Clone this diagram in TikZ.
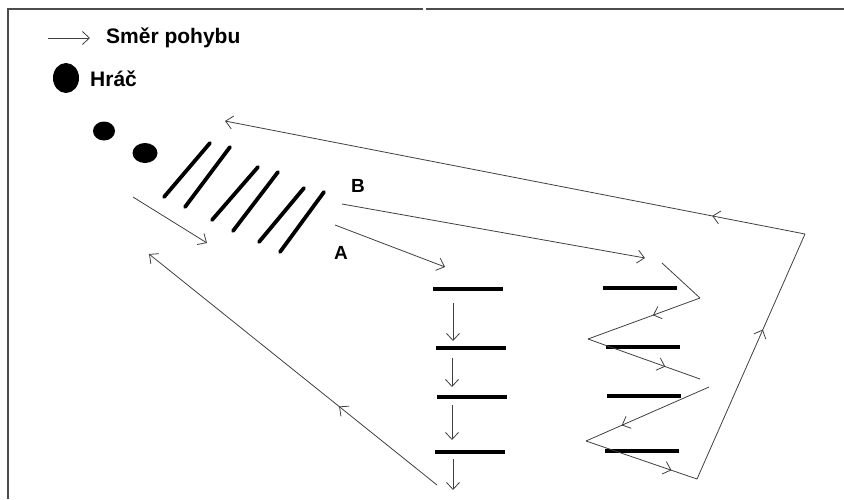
\documentclass[tikz,border=0pt]{standalone}
\usepackage{fontspec}
\setmainfont{Liberation Sans}
\usetikzlibrary{arrows.meta, decorations.markings, shapes.geometric}

\begin{document}
\begin{tikzpicture}[x=1pt, y=-1pt,
    >={Straight Barb[length=7pt, width=13pt]},
    frame/.style = {draw=black!70, line width=1.5pt},
    track/.style = {draw=black!75, line width=0.8pt},
    midarrow/.style = {track, postaction={decorate},
        decoration={markings, mark=at position #1 with {\arrow{>}}}},
    midarrow/.default = 0.5,
    hurdle/.style = {line width=3.8pt, line cap=round},
    bar/.style = {fill=black, minimum width=70pt, minimum height=3.8pt, inner sep=0pt},
    player/.style = {ellipse, fill=black, inner sep=0pt},
    textnode/.style = {font=\bfseries\fontsize{21}{25}\selectfont, inner sep=0pt, anchor=west},
    letter/.style = {font=\bfseries\fontsize{19}{23}\selectfont, inner sep=0pt}
]
\useasboundingbox (0,0) rectangle (844,499);

% Frame round the sheet
\draw[frame] (8,499) -- (8,9) -- (423,9);
\draw[frame] (426,9) -- (844,9);

% Legend
\coordinate (legendstart) at (48,38);
\coordinate (legendend) at (90,38);
\draw[track, ->] (legendstart) -- (legendend);
\node[textnode] (legendmove) at (106,38) {Směr pohybu};
\node[player, minimum width=26pt, minimum height=30pt] (legendplayer) at (66,78) {};
\node[textnode] (legendtext) at (90,79) {Hráč};

% Players waiting
\node[player, minimum width=22pt, minimum height=19pt] (playerone) at (104,131) {};
\node[player, minimum width=25pt, minimum height=20pt] (playertwo) at (145,153) {};

% Diagonal hurdles
\draw[hurdle] (164,197) -- (210,143);
\draw[hurdle] (185,207) -- (230,147);
\draw[hurdle] (212,220) -- (258,167);
\draw[hurdle] (233,231) -- (278,172);
\draw[hurdle] (259,242) -- (304,188);
\draw[hurdle] (280,252) -- (324,192);

% Way into the hurdles
\coordinate (startin) at (133,197);
\coordinate (startout) at (207,243);
\draw[track, ->] (startin) -- (startout);

% Labels A and B
\node[letter] (labelB) at (358,186) {B};
\node[letter] (labelA) at (341,253) {A};

% Left column (A)
\node[bar] (aone) at (468,289) {};
\node[bar] (atwo) at (471,348) {};
\node[bar] (athree) at (472,397) {};
\node[bar] (afour) at (470,452) {};

% Right column (B)
\node[bar, minimum width=74pt] (bone) at (640,288) {};
\node[bar, minimum width=74pt] (btwo) at (643,347) {};
\node[bar, minimum width=74pt] (bthree) at (644,396) {};
\node[bar, minimum width=74pt] (bfour) at (642,451) {};

% Way A
\coordinate (aroutefrom) at (335,225);
\coordinate (arouteto) at (445,267);
\draw[track, ->] (aroutefrom) -- (arouteto);
\coordinate (adownone) at (453,303);
\coordinate (adowntwo) at (453,341);
\coordinate (adownthree) at (452,358);
\coordinate (adownfour) at (452,387);
\coordinate (adownfive) at (452,405);
\coordinate (adownsix) at (452,440);
\coordinate (adownseven) at (453,459);
\coordinate (adowneight) at (453,490);
\draw[track, ->] (adownone) -- (adowntwo);
\draw[track, ->] (adownthree) -- (adownfour);
\draw[track, ->] (adownfive) -- (adownsix);
\draw[track, ->] (adownseven) -- (adowneight);

% Way back from A
\coordinate (abackfrom) at (437,485);
\coordinate (abackto) at (149,254);
\draw[midarrow=0.34, ->] (abackfrom) -- (abackto);

% Way B
\coordinate (broutefrom) at (342,204);
\coordinate (brouteto) at (645,258);
\draw[track, ->] (broutefrom) -- (brouteto);

% Zigzag through the right column
\coordinate (zone) at (662,263);
\coordinate (ztwo) at (700,298);
\coordinate (zthree) at (588,339);
\coordinate (zfour) at (700,379);
\coordinate (zfive) at (709,387);
\coordinate (zsix) at (586,441);
\coordinate (zseven) at (697,479);
\coordinate (zeight) at (805,234);
\coordinate (znine) at (225,121);
\draw[track] (zone) -- (ztwo);
\draw[midarrow=0.42] (ztwo) -- (zthree);
\draw[midarrow=0.69] (zthree) -- (zfour);
\draw[midarrow=0.71] (zfive) -- (zsix);
\draw[midarrow=0.77] (zsix) -- (zseven);
\draw[midarrow=0.61] (zseven) -- (zeight);

% Way back from B
\draw[midarrow=0.16, ->] (zeight) -- (znine);

\end{tikzpicture}
\end{document}
